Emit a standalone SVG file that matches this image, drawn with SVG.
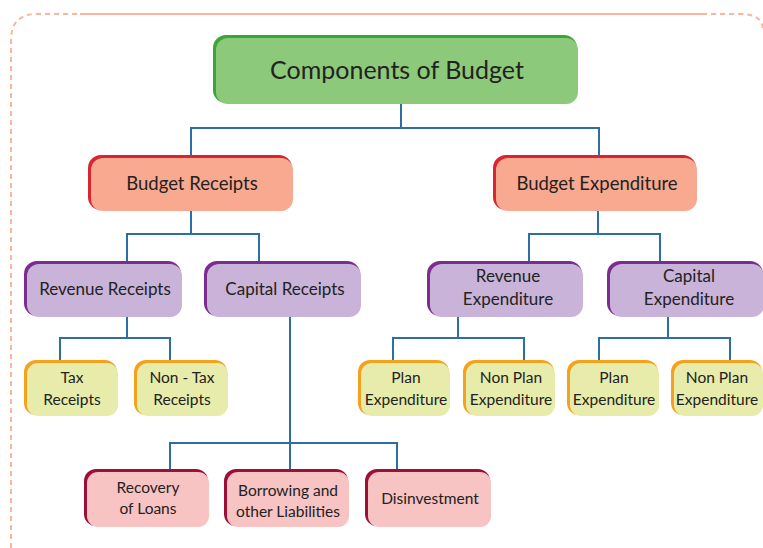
<svg xmlns="http://www.w3.org/2000/svg" width="763" height="548" viewBox="0 0 763 548">
<style>
text{font-family:"Lato","Open Sans","Liberation Sans",sans-serif;fill:#222;text-anchor:middle}
.t0{font-size:25px}
.t1{font-size:18.5px}
.t2{font-size:17px}
.t3{font-size:15.5px}
.conn{fill:none;stroke:#2e6fa3;stroke-width:2}
.g .e{fill:#3aa63a}.g .f{fill:#8dc97a}
.r .e{fill:#d82530}.r .f{fill:#f8a98f}
.p .e{fill:#7c2c8e}.p .f{fill:#c9b3d8}
.y .e{fill:#f6a11c}.y .f{fill:#e7ecaa}
.k .e{fill:#9c1037}.k .f{fill:#f8c3c3}
</style>
<path d="M11,548 V40 Q11,14 37,14 H740 Q763,14 763,30" fill="none" stroke="#fbb59c" stroke-width="2" stroke-dasharray="5,4"/>
<line x1="80" y1="14" x2="707" y2="14" stroke="#fbb59c" stroke-width="2"/>
<g id="connectors" class="conn">
<path d="M401,104 V128 M191,156 V128 H599 V156"/>
<path d="M191,211 V234 M127,262 V234 H259 V262"/>
<path d="M598,211 V234 M529,262 V234 H660 V262"/>
<path d="M127,316 V338 M60,361 V338 H170 V361"/>
<path d="M290,316 V443 M170,470 V443 H397 V470 M290,443 V470"/>
<path d="M458,316 V338 M393,361 V338 H524 V361"/>
<path d="M668,316 V338 M599,361 V338 H730 V361"/>
</g>
<g id="root" class="g"><rect class="e" x="213" y="35" width="364" height="68" rx="13"/><rect class="f" x="216" y="38" width="362" height="66" rx="12"/><text class="t0" x="397" y="79">Components of Budget</text></g>
<g id="budget-receipts" class="r"><rect class="e" x="88" y="155" width="204" height="55" rx="13"/><rect class="f" x="91" y="158" width="202" height="53" rx="12"/><text class="t1" x="192" y="190">Budget Receipts</text></g>
<g id="budget-expenditure" class="r"><rect class="e" x="493" y="155" width="203" height="55" rx="13"/><rect class="f" x="496" y="158" width="201" height="53" rx="12"/><text class="t1" x="597" y="190">Budget Expenditure</text></g>
<g id="revenue-receipts" class="p"><rect class="e" x="24" y="261" width="157" height="55" rx="13"/><rect class="f" x="27" y="264" width="155" height="53" rx="12"/><text class="t2" x="105" y="295">Revenue Receipts</text></g>
<g id="capital-receipts" class="p"><rect class="e" x="204" y="261" width="156" height="55" rx="13"/><rect class="f" x="207" y="264" width="154" height="53" rx="12"/><text class="t2" x="285" y="295">Capital Receipts</text></g>
<g id="revenue-expenditure" class="p"><rect class="e" x="427" y="261" width="155" height="55" rx="13"/><rect class="f" x="430" y="264" width="153" height="53" rx="12"/><text class="t2" x="508" y="282">Revenue</text><text class="t2" x="508" y="305">Expenditure</text></g>
<g id="capital-expenditure" class="p"><rect class="e" x="607" y="261" width="156" height="55" rx="13"/><rect class="f" x="610" y="264" width="154" height="53" rx="12"/><text class="t2" x="689" y="282">Capital</text><text class="t2" x="689" y="305">Expenditure</text></g>
<g id="tax-receipts" class="y"><rect class="e" x="24" y="360" width="93" height="55" rx="12"/><rect class="f" x="27" y="363" width="91" height="53" rx="11"/><text class="t3" x="72" y="383">Tax</text><text class="t3" x="72" y="405">Receipts</text></g>
<g id="non-tax-receipts" class="y"><rect class="e" x="134" y="360" width="93" height="55" rx="12"/><rect class="f" x="137" y="363" width="91" height="53" rx="11"/><text class="t3" x="182" y="383">Non - Tax</text><text class="t3" x="182" y="405">Receipts</text></g>
<g id="plan-expenditure-1" class="y"><rect class="e" x="358" y="360" width="91" height="55" rx="12"/><rect class="f" x="361" y="363" width="89" height="53" rx="11"/><text class="t3" x="406" y="383">Plan</text><text class="t3" x="406" y="405">Expenditure</text></g>
<g id="non-plan-expenditure-1" class="y"><rect class="e" x="463" y="360" width="91" height="55" rx="12"/><rect class="f" x="466" y="363" width="89" height="53" rx="11"/><text class="t3" x="511" y="383">Non Plan</text><text class="t3" x="511" y="405">Expenditure</text></g>
<g id="plan-expenditure-2" class="y"><rect class="e" x="567" y="360" width="91" height="55" rx="12"/><rect class="f" x="570" y="363" width="89" height="53" rx="11"/><text class="t3" x="614" y="383">Plan</text><text class="t3" x="614" y="405">Expenditure</text></g>
<g id="non-plan-expenditure-2" class="y"><rect class="e" x="671" y="360" width="91" height="55" rx="12"/><rect class="f" x="674" y="363" width="89" height="53" rx="11"/><text class="t3" x="717" y="383">Non Plan</text><text class="t3" x="717" y="405">Expenditure</text></g>
<g id="recovery-of-loans" class="k"><rect class="e" x="84" y="469" width="124" height="57" rx="12"/><rect class="f" x="87" y="472" width="122" height="55" rx="11"/><text class="t3" x="148" y="493">Recovery</text><text class="t3" x="148" y="514">of Loans</text></g>
<g id="borrowing" class="k"><rect class="e" x="224" y="469" width="124" height="57" rx="12"/><rect class="f" x="227" y="472" width="122" height="55" rx="11"/><text class="t3" x="288" y="496">Borrowing and</text><text class="t3" x="288" y="517">other Liabilities</text></g>
<g id="disinvestment" class="k"><rect class="e" x="365" y="469" width="125" height="57" rx="12"/><rect class="f" x="368" y="472" width="123" height="55" rx="11"/><text class="t3" x="430" y="504">Disinvestment</text></g>
</svg>
